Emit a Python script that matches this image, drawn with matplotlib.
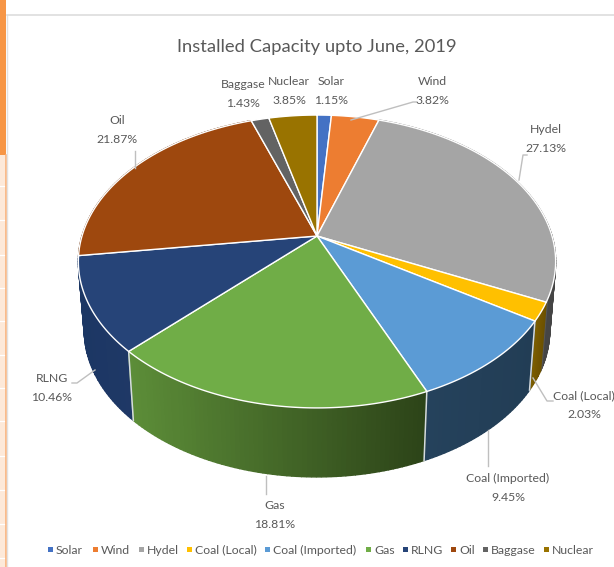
import numpy as np
import matplotlib
matplotlib.use("Agg")
import matplotlib.pyplot as plt
from matplotlib.patches import Polygon, Rectangle
from matplotlib.colors import to_rgb

categories = ["Solar", "Wind", "Hydel", "Coal (Local)", "Coal (Imported)", "Gas", "RLNG", "Oil", "Baggase", "Nuclear"]
shares = [1.15, 3.82, 27.13, 2.03, 9.45, 18.81, 10.46, 21.87, 1.43, 3.85]
top_colors = ["#4472C4", "#ED7D31", "#A5A5A5", "#FFC000", "#5B9BD5", "#70AD47", "#264478", "#9E480E", "#636363", "#997300"]
side_left = ["#2f4f88", "#a5571f", "#737373", "#7d5e00", "#25425c", "#5c8d38", "#1c3764", "#6e320a", "#454545", "#6b5000"]
side_right = ["#2f4f88", "#a5571f", "#454545", "#6b5000", "#223d55", "#2c4318", "#1f3866", "#6e320a", "#454545", "#6b5000"]

plt.rcParams["font.family"] = ["Lato", "DejaVu Sans"]

fig = plt.figure(figsize=(6.14, 5.67), dpi=100)
ax = fig.add_axes([0, 0, 1, 1])
ax.set_xlim(0, 614)
ax.set_ylim(567, 0)
ax.axis("off")

# pie geometry (perspective projection of a disc)
CX, CY, R, S, K = 317, 236, 235, 142, 0.174
DEPTH, SHRINK = 69, 0.975

def top_xy(deg):
    t = np.radians(deg)
    u, v = np.sin(t), np.cos(t)
    w = 1 + K * v
    return CX + R * u / w, CY - S * v / w

def low_xy(deg):
    x, y = top_xy(deg)
    return CX + SHRINK * (x - CX), y + DEPTH

# page fragments around the chart
ax.add_patch(Rectangle((0, 0), 6, 155, fc="#F79646", ec="none"))
ax.add_patch(Rectangle((0, 155), 6, 412, fc="#FDE9D9", ec="none"))
for yy in [186, 220, 255, 288, 321, 355, 388, 421, 456, 490, 524, 558]:
    ax.plot([0, 5], [yy, yy], color="#FFFFFF", lw=0.9)
ax.plot([5.5, 5.5], [155, 567], color="#F9B27C", lw=1.2)
ax.plot([7, 7], [15, 567], color="#E2E2E2", lw=1)
ax.plot([7, 614], [15, 15], color="#DDDDDD", lw=1.2)

edges = np.concatenate([[0], np.cumsum(shares)]) / sum(shares) * 360
order = np.argsort([abs(((e0 + e1) / 2) - 180) for e0, e1 in zip(edges[:-1], edges[1:])])[::-1]

# side wall: overlapping strips give a smooth shading
for i in order:
    a0, a1 = edges[i], edges[i + 1]
    if a1 <= 90 or a0 >= 270:
        continue
    steps = np.linspace(a0, a1, max(int(a1 - a0) + 1, 2))
    c0, c1 = np.array(to_rgb(side_left[i])), np.array(to_rgb(side_right[i]))
    x_lo, x_hi = top_xy(a1)[0], top_xy(a0)[0]
    for s0, s1 in zip(steps[:-1], steps[1:]):
        p = [top_xy(s0), top_xy(s1), low_xy(s1), low_xy(s0)]
        f = np.clip((top_xy((s0 + s1) / 2)[0] - x_lo) / max(x_hi - x_lo, 1), 0, 1)
        col = c0 + (c1 - c0) * f
        ax.add_patch(Polygon(p, closed=True, fc=col, ec=col, lw=1.0, zorder=2))
for i in range(len(shares) + 1):
    e = edges[i]
    if 120 < e < 240:
        xa, ya = top_xy(e)
        xb, yb = low_xy(e)
        ax.plot([xa, xb], [ya, yb], color="#D5DBE0", lw=1.1, zorder=3)

# top face
for i in range(len(shares)):
    arc = np.linspace(edges[i], edges[i + 1], 90)
    pts = [(CX, CY)] + [top_xy(a) for a in arc]
    ax.add_patch(Polygon(pts, closed=True, fc=top_colors[i], ec="white", lw=1.0, joinstyle="round", zorder=4))

# title
TXT = "#595959"
ax.text(317, 47, "Installed Capacity upto June, 2019", ha="center", va="center", fontsize=13.2, color=TXT)

# data labels
label_pos = [(331, 91), (432, 91), (546, 139), (584, 405), (508, 488), (275, 515), (52, 388), (117, 130), (243, 94), (289, 91)]
for name, val, (lx, ly) in zip(categories, shares, label_pos):
    ax.text(lx, ly, f"{name}\n{val:.2f}%", ha="center", va="center", fontsize=8.8,
            color=TXT, linespacing=1.85, zorder=6)

# leader lines
leaders = [
    [(351, 120), (413, 102), (416, 102)],
    [(519, 180), (523, 155), (527, 155)],
    [(533, 378), (547, 401), (553, 401)],
    [(488, 430), (488, 466)],
    [(266, 476), (266, 494)],
    [(95, 370), (77, 383), (72, 383)],
    [(135, 168), (135, 151)],
]
for seg in leaders:
    xs, ys = zip(*seg)
    ax.plot(xs, ys, color="#BFBFBF", lw=1, zorder=5)

# legend
legend_x = [50, 95, 141, 189, 267, 368, 405, 453, 485, 546]
for name, col, lx in zip(categories, top_colors, legend_x):
    ax.add_patch(Rectangle((lx - 2, 547), 5, 5, fc=col, ec="none"))
    ax.text(lx + 6, 550, name, ha="left", va="center", fontsize=8.8, color=TXT)

fig.savefig("out.png", dpi=100)
